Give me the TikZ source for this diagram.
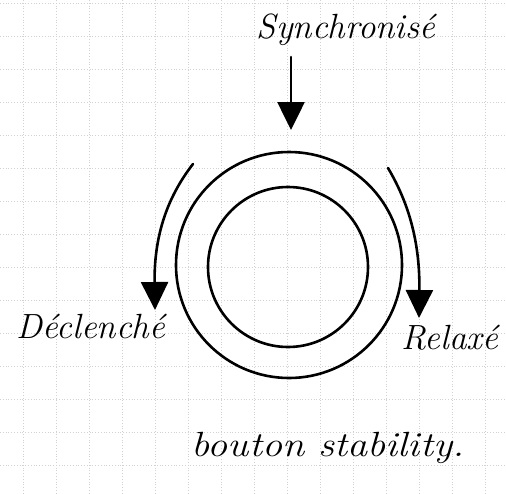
\documentclass[tikz,border=0pt]{standalone}
\usetikzlibrary{arrows.meta}
\begin{document}
\begin{tikzpicture}[x=1pt,y=-1pt,
  ink/.style={line width=2.6pt,line cap=round,black},
  flow/.style={ink,-{Triangle[length=28pt,width=27pt]}},
  lbl/.style={font=\itshape\fontsize{35}{40}\selectfont,inner sep=0pt},
  ring/.style={circle,draw,ink,inner sep=0pt}]
\useasboundingbox (0,0) rectangle (506,493);
\fill[white] (0,0) rectangle (506,493);
% grid paper
\foreach \y in {3,36,...,493} \draw[gray!35,dotted,line width=0.8pt] (0,\y) -- (506,\y);
\foreach \x in {23,56,...,506} \draw[gray!35,dotted,line width=0.8pt] (\x,0) -- (\x,493);
% rings
\node[ring,minimum size=226pt] (outer) at (289,265) {};
\node[ring,minimum size=160pt] (inner) at (288,267) {};
% labels
\node[lbl] (sync) at (346,30) {Synchronisé};
\node[lbl] (decl) at (91,326) {Déclenché};
\node[lbl] (relax) at (450,338) {Relaxé};
\node[lbl,xscale=1.15] (bouton) at (328,448) {bouton stability.};
% connectors
\coordinate (ts) at (291,57);
\coordinate (te) at (291,130);
\coordinate (ls) at (193,164);
\coordinate (le) at (155,310);
\coordinate (rs) at (388,168);
\coordinate (re) at (419,318);
\draw[flow] (ts) -- (te);
\draw[flow] (ls) .. controls (165,200) and (154,240) .. (le);
\draw[flow] (rs) .. controls (410,205) and (420,245) .. (re);
\end{tikzpicture}
\end{document}
